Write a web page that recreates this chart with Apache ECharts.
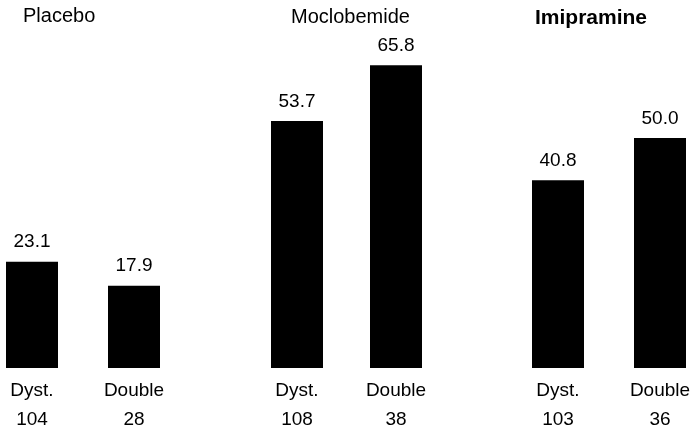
<!DOCTYPE html>
<html>
<head>
<meta charset="utf-8">
<script src="https://cdn.jsdelivr.net/npm/echarts@6/dist/echarts.min.js"></script>
<style>
html,body{margin:0;padding:0;background:#fff;}
#chart{width:695px;height:434px;}
</style>
</head>
<body>
<div id="chart"></div>
<script>
var groups = ['Placebo', 'Moclobemide', 'Imipramine'];
var categories = ['Dyst.', 'Double'];
var placeboValues = [23.1, 17.9];
var moclobemideValues = [53.7, 65.8];
var imipramineValues = [40.8, 50.0];
var placeboN = ['104', '28'];
var moclobemideN = ['108', '38'];
var imipramineN = ['103', '36'];

var values = [placeboValues, moclobemideValues, imipramineValues];
var counts = [placeboN, moclobemideN, imipramineN];

var FONT = '"Liberation Sans", Arial, Helvetica, sans-serif';
var gridBoxes = [{left: 32, width: 102}, {left: 297, width: 99}, {left: 558, width: 102}];
var titlePos = [{left: 23, top: 6, w: 'normal', s: 20}, {left: 291, top: 7, w: 'normal', s: 20}, {left: 535, top: 8, w: 'bold', s: 21}];

var option = {
  backgroundColor: '#fff',
  animation: false,
  title: groups.map(function (g, i) {
    return {
      text: g, left: titlePos[i].left, top: titlePos[i].top, padding: 0,
      textStyle: {fontFamily: FONT, fontSize: titlePos[i].s, fontWeight: titlePos[i].w, color: '#000'}
    };
  }),
  grid: groups.map(function (g, i) {
    return {left: gridBoxes[i].left, width: gridBoxes[i].width, top: 46, bottom: 66, containLabel: false};
  }),
  xAxis: groups.map(function (g, i) {
    return {
      type: 'category', gridIndex: i, boundaryGap: false,
      data: categories.map(function (c, j) { return c + '\n' + counts[i][j]; }),
      axisLine: {show: false}, axisTick: {show: false}, splitLine: {show: false},
      axisLabel: {fontFamily: FONT, fontSize: 19, color: '#000', lineHeight: 29, margin: 8, interval: 0}
    };
  }),
  yAxis: groups.map(function (g, i) {
    return {type: 'value', gridIndex: i, min: 0, max: 70, show: false, splitLine: {show: false}};
  }),
  series: groups.map(function (g, i) {
    return {
      type: 'bar', xAxisIndex: i, yAxisIndex: i, clip: false,
      data: values[i], barWidth: 52,
      itemStyle: {color: '#000'},
      label: {
        show: true, position: 'top', distance: 10,
        fontFamily: FONT, fontSize: 19, color: '#000',
        formatter: function (p) { return p.value.toFixed(1); }
      }
    };
  })
};

var chart = echarts.init(document.getElementById('chart'), null, {renderer: 'canvas'});
chart.setOption(option);
</script>
</body>
</html>
